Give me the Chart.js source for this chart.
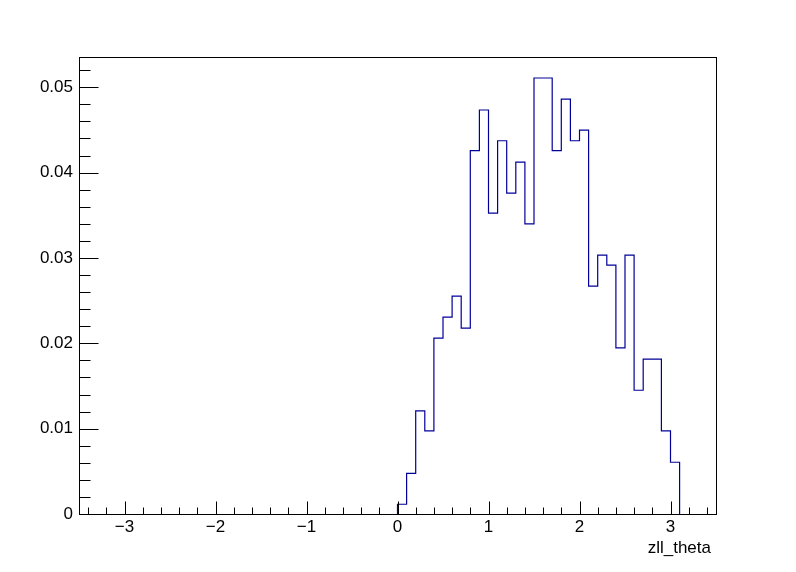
<!DOCTYPE html>
<html>
<head>
<meta charset="utf-8">
<script src="https://cdn.jsdelivr.net/npm/chart.js@4.4.0/dist/chart.umd.min.js"></script>
<style>
  html, body { margin: 0; padding: 0; background: #ffffff; }
  #wrap { width: 796px; height: 572px; }
</style>
</head>
<body>
<div id="wrap"><canvas id="c" width="796" height="572"></canvas></div>
<script>
// ---- data ----
const binLowEdges = [0.0, 0.1, 0.2, 0.3, 0.4, 0.5, 0.6, 0.7, 0.8, 0.9,
                     1.0, 1.1, 1.2, 1.3, 1.4, 1.5, 1.6, 1.7, 1.8, 1.9,
                     2.0, 2.1, 2.2, 2.3, 2.4, 2.5, 2.6, 2.7, 2.8, 2.9, 3.0];
const binWidth = 0.1;
const binContents = [0.00114, 0.00477, 0.01207, 0.00973, 0.02060, 0.02306, 0.02552, 0.02177, 0.04256, 0.04733,
                     0.03525, 0.04373, 0.03760, 0.04123, 0.03400, 0.05108, 0.05108, 0.04256, 0.04860, 0.04373,
                     0.04498, 0.02669, 0.03033, 0.02916, 0.01946, 0.03033, 0.01450, 0.01814, 0.01814, 0.00973, 0.00606];
const xTickValues = [-3, -2, -1, 0, 1, 2, 3];
const xTickLabels = ['\u22123', '\u22122', '\u22121', '0', '1', '2', '3'];
const yTickValues = [0, 0.01, 0.02, 0.03, 0.04, 0.05];
const yTickLabels = ['0', '0.01', '0.02', '0.03', '0.04', '0.05'];
const xMinorStep = 0.2;
const yMinorStep = 0.002;
const xRange = [-3.5, 3.5];
const yRange = [0, 0.05354];
const xTitle = 'zll_theta';

// histogram outline points built from the bins
const outline = [{ x: binLowEdges[0], y: 0 }];
binLowEdges.forEach((e, i) => outline.push({ x: e, y: binContents[i] }));
outline.push({ x: binLowEdges[binLowEdges.length - 1] + binWidth, y: 0 });

const FONT = 'Liberation Sans, Arial, Helvetica, sans-serif';
const FSIZE = 17;

const rootAxes = {
  id: 'rootAxes',
  afterDatasetsDraw(chart) {
    const ctx = chart.ctx;
    const a = chart.chartArea;
    const xs = chart.scales.x, ys = chart.scales.y;
    ctx.save();
    ctx.strokeStyle = '#000000';
    ctx.lineWidth = 1;
    // frame
    ctx.strokeRect(Math.round(a.left) + 0.5, Math.round(a.top) + 0.5,
                   Math.round(a.right - a.left), Math.round(a.bottom - a.top));
    ctx.beginPath();
    const yb = Math.round(a.bottom) + 0.5;
    // x ticks
    const x0 = Math.ceil(xRange[0] / xMinorStep - 1e-9);
    for (let k = x0; k * xMinorStep <= xRange[1] + 1e-9; k++) {
      const v = k * xMinorStep;
      const isMajor = Math.abs(v - Math.round(v)) < 1e-9;
      const px = Math.round(xs.getPixelForValue(v)) + 0.5;
      const len = isMajor ? 13 : 7;
      ctx.moveTo(px, yb);
      ctx.lineTo(px, yb - len);
    }
    // y ticks
    const xl = Math.round(a.left) + 0.5;
    for (let k = 0; k * yMinorStep <= yRange[1] + 1e-12; k++) {
      const v = k * yMinorStep;
      const isMajor = (k % 5) === 0;
      const py = Math.round(ys.getPixelForValue(v)) + 0.5;
      const len = isMajor ? 19 : 11;
      ctx.moveTo(xl, py);
      ctx.lineTo(xl + len, py);
    }
    ctx.stroke();
    // axis title (right-aligned under the x axis, as in ROOT)
    ctx.fillStyle = '#000000';
    ctx.font = FSIZE + 'px ' + FONT;
    ctx.textAlign = 'right';
    ctx.textBaseline = 'alphabetic';
    ctx.fillText(xTitle, a.right - 5, a.bottom + 38.5);
    ctx.restore();
  }
};

new Chart(document.getElementById('c'), {
  type: 'line',
  data: {
    datasets: [{
      data: outline,
      stepped: 'before',
      borderColor: 'rgb(0,0,153)',
      borderWidth: 1.2,
      pointRadius: 0,
      fill: false,
      tension: 0
    }]
  },
  options: {
    responsive: false,
    animation: false,
    devicePixelRatio: 1,
    layout: { padding: { left: 0, top: 57, right: 80, bottom: 0 } },
    plugins: { legend: { display: false }, tooltip: { enabled: false }, title: { display: false } },
    scales: {
      x: {
        type: 'linear',
        min: xRange[0], max: xRange[1],
        grid: { display: false, drawTicks: false },
        border: { display: false },
        afterBuildTicks: s => { s.ticks = xTickValues.map(v => ({ value: v })); },
        afterFit: s => { s.height = 58; },
        ticks: {
          padding: 3,
          maxRotation: 0,
          autoSkip: false,
          color: '#000000',
          font: { family: FONT, size: FSIZE },
          callback: (v) => { const i = xTickValues.findIndex(t => Math.abs(t - v) < 1e-9); return i >= 0 ? xTickLabels[i] : ''; }
        }
      },
      y: {
        type: 'linear',
        min: yRange[0], max: yRange[1],
        grid: { display: false, drawTicks: false },
        border: { display: false },
        afterBuildTicks: s => { s.ticks = yTickValues.map(v => ({ value: v })); },
        afterFit: s => { s.width = 79; },
        ticks: {
          padding: 6,
          autoSkip: false,
          color: '#000000',
          font: { family: FONT, size: FSIZE },
          callback: (v) => { const i = yTickValues.findIndex(t => Math.abs(t - v) < 1e-9); return i >= 0 ? yTickLabels[i] : ''; }
        }
      }
    }
  },
  plugins: [rootAxes]
});
</script>
</body>
</html>
